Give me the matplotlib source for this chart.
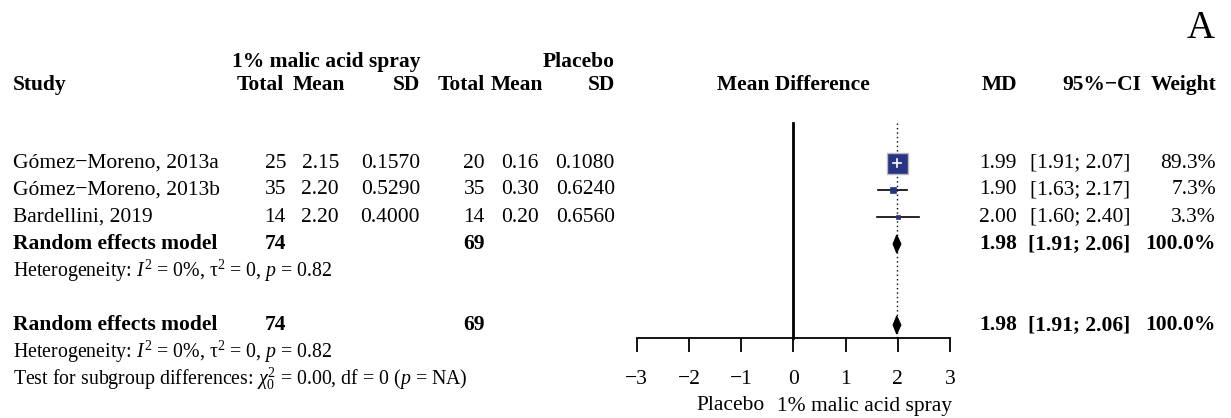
import matplotlib
matplotlib.use("Agg")
import matplotlib.pyplot as plt
from matplotlib.patches import Polygon
import numpy as np

# ---------------- data ----------------
studies = ["Gómez\u2212Moreno, 2013a", "Gómez\u2212Moreno, 2013b", "Bardellini, 2019"]
trt_total = [25, 35, 14]
trt_mean = ["2.15", "2.20", "2.20"]
trt_sd = ["0.1570", "0.5290", "0.4000"]
ctl_total = [20, 35, 14]
ctl_mean = ["0.16", "0.30", "0.20"]
ctl_sd = ["0.1080", "0.6240", "0.6560"]
md = [1.99, 1.90, 2.00]
ci_low = [1.91, 1.63, 1.60]
ci_high = [2.07, 2.17, 2.40]
weight = [89.3, 7.3, 3.3]
pooled_md, pooled_low, pooled_high = 1.98, 1.91, 2.06
pooled_weight = 100.0
pooled_n_trt, pooled_n_ctl = 74, 69
xticks = [-3, -2, -1, 0, 1, 2, 3]
trt_label = "1% malic acid spray"
ctl_label = "Placebo"

# ---------------- style ----------------
FONT = "Liberation Serif"
plt.rcParams["font.family"] = [FONT, "DejaVu Serif"]
plt.rcParams["mathtext.fontset"] = "custom"
plt.rcParams["mathtext.rm"] = FONT
plt.rcParams["mathtext.it"] = FONT + ":italic"
plt.rcParams["mathtext.bf"] = FONT + ":bold"
FS = 15.5
FS_HET = 14.3
SQ_COL = "#283582"

W, H = 1231, 418
fig = plt.figure(figsize=(W / 100, H / 100), dpi=100)

# text layer in pixel coordinates
ax_t = fig.add_axes([0, 0, 1, 1])
ax_t.set_xlim(0, W)
ax_t.set_ylim(H, 0)
ax_t.axis("off")

# layout (pixels)
row_y = [163, 190, 217]
re_y, het_y = 244, 271
re2_y, het2_y, test_y = 325, 352, 379
grp_y, hdr_y = 62, 85
x_study = 13
# (data right edge, header right edge)
x_t_tot, x_t_tot_h = 286, 284
x_t_mean, x_t_mean_h = 339, 345
x_t_sd, x_t_sd_h = 420, 420
x_c_tot, x_c_tot_h = 485, 485
x_c_mean, x_c_mean_h = 539, 543
x_c_sd, x_c_sd_h = 615, 615
x_md, x_ci, x_ci_hdr, x_w = 1017, 1130, 1141, 1216
axis_left, axis_right, axis_y, line_top = 636.7, 950.0, 337.7, 123.0


def txt(x, y, s, ha="left", bold=False, size=FS):
    ax_t.text(x, y, s, ha=ha, va="center", fontsize=size,
              fontweight="bold" if bold else "normal")


# headers
txt(x_t_sd_h, grp_y, trt_label, ha="right", bold=True)
txt(x_c_sd_h, grp_y, ctl_label, ha="right", bold=True)
txt(x_study, hdr_y, "Study", bold=True)
for xr, s in [(x_t_tot_h, "Total"), (x_t_mean_h, "Mean"), (x_t_sd_h, "SD"),
              (x_c_tot_h, "Total"), (x_c_mean_h, "Mean"), (x_c_sd_h, "SD")]:
    txt(xr, hdr_y, s, ha="right", bold=True)
txt((axis_left + axis_right) / 2, hdr_y, "Mean Difference", ha="center", bold=True)
txt(x_md, hdr_y, "MD", ha="right", bold=True)
txt(x_ci_hdr, hdr_y, "95%\u2212CI", ha="right", bold=True)
txt(x_w, hdr_y, "Weight", ha="right", bold=True)
ax_t.text(1201, 28, "A", ha="center", va="center", fontsize=28)

# study rows
for i, y in enumerate(row_y):
    txt(x_study, y, studies[i])
    txt(x_t_tot, y, str(trt_total[i]), ha="right")
    txt(x_t_mean, y, trt_mean[i], ha="right")
    txt(x_t_sd, y, trt_sd[i], ha="right")
    txt(x_c_tot, y, str(ctl_total[i]), ha="right")
    txt(x_c_mean, y, ctl_mean[i], ha="right")
    txt(x_c_sd, y, ctl_sd[i], ha="right")
    txt(x_md, y, f"{md[i]:.2f}", ha="right")
    txt(x_ci, y, f"[{ci_low[i]:.2f}; {ci_high[i]:.2f}]", ha="right")
    txt(x_w, y, f"{weight[i]:.1f}%", ha="right")

het = r"Heterogeneity: $I^2$ = 0%, $\mathrm{\tau}^2$ = 0, $p$ = 0.82"
for y_re, y_het in [(re_y, het_y), (re2_y, het2_y)]:
    txt(x_study, y_re, "Random effects model", bold=True)
    txt(x_t_tot, y_re, str(pooled_n_trt), ha="right", bold=True)
    txt(x_c_tot, y_re, str(pooled_n_ctl), ha="right", bold=True)
    txt(x_md, y_re, f"{pooled_md:.2f}", ha="right", bold=True)
    txt(x_ci, y_re, f"[{pooled_low:.2f}; {pooled_high:.2f}]", ha="right", bold=True)
    txt(x_w, y_re, f"{pooled_weight:.1f}%", ha="right", bold=True)
    txt(x_study, y_het, het, size=FS_HET)
txt(x_study, test_y,
    r"Test for subgroup differences: $\chi^2_0$ = 0.00, df = 0 ($p$ = NA)", size=FS_HET)

# bottom labels
txt(765, 406, ctl_label, ha="right")
txt(777, 406, trt_label, ha="left")

# ---------------- forest axes ----------------
ax = fig.add_axes([axis_left / W, 1 - axis_y / H,
                   (axis_right - axis_left) / W, axis_y / H])
ax.set_xlim(xticks[0], xticks[-1])
ax.set_ylim(axis_y, 0)
ax.patch.set_visible(False)
for s in ["top", "left", "right"]:
    ax.spines[s].set_visible(False)
ax.spines["bottom"].set_linewidth(1.3)
ax.set_yticks([])
ax.set_xticks(xticks)
ax.tick_params(axis="x", direction="out", length=10, width=1.3,
               labelsize=FS, pad=13)

# null line and pooled dotted line
ax.plot([0, 0], [line_top, axis_y], color="black", lw=2, clip_on=False)
ax.plot([pooled_md, pooled_md], [line_top, axis_y], color="black", lw=1,
        linestyle=(0, (1, 2.2)), clip_on=False)

# study squares and CIs
w = np.array(weight)
side_px = 21 * np.sqrt(w / w.max())
for i, y in enumerate(row_y):
    big = side_px[i] > 10
    ax.plot([ci_low[i], ci_high[i]], [y, y], color="black", lw=1.2, zorder=3)
    ax.plot([md[i]], [y], marker="s", markersize=side_px[i] * 0.72,
            markerfacecolor=SQ_COL,
            markeredgecolor="#BBBBBB" if big else SQ_COL,
            markeredgewidth=1.0 if big else 0.5, zorder=4)
    if big:
        ax.plot([ci_low[i], ci_high[i]], [y, y], color="white", lw=1.2, zorder=5)
        ax.plot([md[i], md[i]], [y - 4, y + 4], color="white", lw=1.2, zorder=5)

# diamonds
half_h = 9
for y in [re_y, re2_y]:
    ax.add_patch(Polygon([[pooled_low, y], [pooled_md, y - half_h],
                          [pooled_high, y], [pooled_md, y + half_h]],
                         closed=True, facecolor="black", edgecolor="black",
                         lw=0.8, zorder=4, clip_on=False))

fig.savefig("out.png", dpi=100)
